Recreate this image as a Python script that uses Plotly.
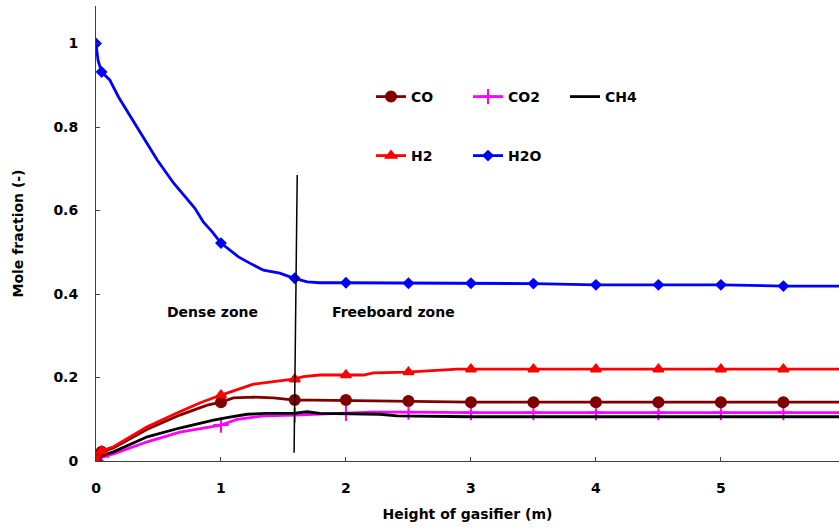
import plotly.graph_objects as go

# ---- data ----
h2o_x = [0, 0.016, 0.045, 0.11, 0.18, 0.23, 0.33, 0.43, 0.49, 0.62, 0.70, 0.79, 0.86, 0.93, 1.0,
         1.14, 1.23, 1.34, 1.47, 1.54, 1.58, 1.69, 1.79, 1.97, 2.5, 3.0, 3.5, 4.0, 4.5, 5.0, 5.5, 5.95]
h2o_y = [1.0, 0.96, 0.932, 0.913, 0.872, 0.848, 0.80, 0.752, 0.721, 0.666, 0.637, 0.606, 0.572, 0.549, 0.522,
         0.489, 0.474, 0.457, 0.450, 0.443, 0.438, 0.429, 0.427, 0.427, 0.426, 0.426, 0.425, 0.422, 0.422, 0.422, 0.419, 0.419]

h2_x = [0, 0.045, 0.14, 0.41, 0.67, 0.83, 1.0, 1.07, 1.26, 1.42, 1.58, 1.66, 1.79, 2.14, 2.22, 2.49, 2.59, 2.89, 3.0, 5.95]
h2_y = [0, 0.024, 0.034, 0.082, 0.118, 0.139, 0.158, 0.165, 0.184, 0.190, 0.196, 0.202, 0.206, 0.206, 0.211, 0.213, 0.215, 0.220, 0.220, 0.220]

co_x = [0, 0.045, 0.14, 0.41, 0.67, 0.89, 1.0, 1.10, 1.26, 1.42, 1.59, 1.74, 2.22, 3.0, 5.95]
co_y = [0, 0.022, 0.031, 0.076, 0.110, 0.134, 0.141, 0.151, 0.153, 0.151, 0.146, 0.146, 0.144, 0.141, 0.141]

ch4_x = [0, 0.045, 0.14, 0.41, 0.67, 0.94, 1.07, 1.21, 1.37, 1.58, 1.69, 1.79, 2.27, 2.41, 3.0, 5.95]
ch4_y = [0, 0.013, 0.022, 0.058, 0.079, 0.098, 0.105, 0.112, 0.114, 0.114, 0.118, 0.114, 0.112, 0.108, 0.106, 0.106]

co2_x = [0, 0.045, 0.14, 0.41, 0.67, 1.0, 1.13, 1.34, 1.59, 1.79, 1.97, 2.2, 2.49, 3.0, 5.95]
co2_y = [0, 0.010, 0.017, 0.046, 0.069, 0.086, 0.100, 0.108, 0.110, 0.112, 0.114, 0.117, 0.117, 0.116, 0.116]

mark_x = [0, 0.045, 1.0, 1.59, 2.0, 2.5, 3.0, 3.5, 4.0, 4.5, 5.0, 5.5]
h2o_my = [1.0, 0.932, 0.522, 0.438, 0.427, 0.426, 0.426, 0.425, 0.422, 0.422, 0.422, 0.419]
h2_my = [0, 0.024, 0.158, 0.196, 0.206, 0.213, 0.220, 0.220, 0.220, 0.220, 0.220, 0.220]
co_my = [0, 0.022, 0.141, 0.146, 0.146, 0.144, 0.141, 0.141, 0.141, 0.141, 0.141, 0.141]
co2_my = [0, 0.010, 0.086, 0.110, 0.114, 0.117, 0.116, 0.116, 0.116, 0.116, 0.116, 0.116]

zone_line_x = [1.585, 1.61]
zone_line_y = [0.02, 0.685]

x_ticks = [0, 1, 2, 3, 4, 5]
y_ticks = [0, 0.2, 0.4, 0.6, 0.8, 1.0]

FONT = "DejaVu Sans"
LW = 2.8

series = [
    # name, x, y, mark_y, color, symbol, size, legend
    ("CO2", co2_x, co2_y, co2_my, "#FF00FF", "cross-thin", 11, "legend"),
    ("CH4", ch4_x, ch4_y, None, "#000000", None, 0, "legend"),
    ("CO", co_x, co_y, co_my, "#800000", "circle", 10, "legend"),
    ("H2", h2_x, h2_y, h2_my, "#FF0000", "triangle-up", 9, "legend2"),
    ("H2O", h2o_x, h2o_y, h2o_my, "#0000FF", "diamond", 7, "legend2"),
]

fig = go.Figure()
for name, x, y, my, col, sym, sz, lg in series:
    fig.add_trace(go.Scatter(x=x, y=y, mode="lines", line=dict(color=col, width=LW),
                             showlegend=False, hoverinfo="skip"))
    if my is not None:
        mk = dict(color=col, symbol=sym, size=sz, line=dict(color=col, width=2))
        fig.add_trace(go.Scatter(x=mark_x, y=my, mode="markers", marker=mk, showlegend=False))

# legend entries (legend-only traces)
legend_order = ["CO", "CO2", "CH4", "H2", "H2O"]
lookup = {s[0]: s for s in series}
for nm in legend_order:
    name, x, y, my, col, sym, sz, lg = lookup[nm]
    if sym is None:
        fig.add_trace(go.Scatter(x=[None], y=[None], mode="lines", name=name,
                                 line=dict(color=col, width=LW), legend=lg))
    else:
        fig.add_trace(go.Scatter(x=[None], y=[None], mode="lines+markers", name=name,
                                 line=dict(color=col, width=LW),
                                 marker=dict(color=col, symbol=sym, size=sz,
                                             line=dict(color=col, width=2)), legend=lg))

fig.add_shape(type="line", xref="x", yref="y", x0=zone_line_x[0], y0=zone_line_y[0],
              x1=zone_line_x[1], y1=zone_line_y[1], line=dict(color="black", width=1.5))

fig.add_annotation(x=0.93, y=0.357, xref="x", yref="y", text="Dense zone", showarrow=False,
                   font=dict(family=FONT, size=14, color="black", weight="bold"))
fig.add_annotation(x=2.38, y=0.357, xref="x", yref="y", text="Freeboard zone", showarrow=False,
                   font=dict(family=FONT, size=14, color="black", weight="bold"))

leg_common = dict(orientation="h", bgcolor="rgba(0,0,0,0)", borderwidth=0,
                  font=dict(family=FONT, size=14, color="black", weight="bold"),
                  entrywidth=52, entrywidthmode="pixels", xanchor="left", yanchor="middle",
                  itemclick=False, itemdoubleclick=False)

fig.update_layout(
    width=839, height=529,
    margin=dict(l=96, r=0, t=6, b=68),
    paper_bgcolor="white", plot_bgcolor="white",
    font=dict(family=FONT, size=14, color="black"),
    legend=dict(x=(371 - 96) / 743, y=1 - (97 - 6) / 455, **leg_common),
    legend2=dict(x=(371 - 96) / 743, y=1 - (156 - 6) / 455, **leg_common),
    xaxis=dict(range=[0, 5.945], tickvals=x_ticks, ticks="inside", ticklen=4, tickcolor="#404040",
               showline=True, linecolor="#404040", linewidth=1, showgrid=False, zeroline=False,
               automargin=False,
               tickfont=dict(family=FONT, size=14, weight="bold"), ticklabelstandoff=14,
               title=dict(text="Height of gasifier (m)", standoff=14,
                          font=dict(family=FONT, size=14, weight="bold"))),
    yaxis=dict(range=[0, 1.09], tickvals=y_ticks, ticks="inside", ticklen=4, tickcolor="#404040",
               showline=True, linecolor="#404040", linewidth=1, showgrid=False, zeroline=False,
               automargin=False,
               tickfont=dict(family=FONT, size=14, weight="bold"), ticklabelstandoff=14,
               title=dict(text="Mole fraction (-)", standoff=26,
                          font=dict(family=FONT, size=14, weight="bold"))),
)

# remove the browser's default body margin so the figure fills the window exactly
fig.write_html("out.html", config={"displayModeBar": False},
               post_script="document.body.style.margin='0px';")
